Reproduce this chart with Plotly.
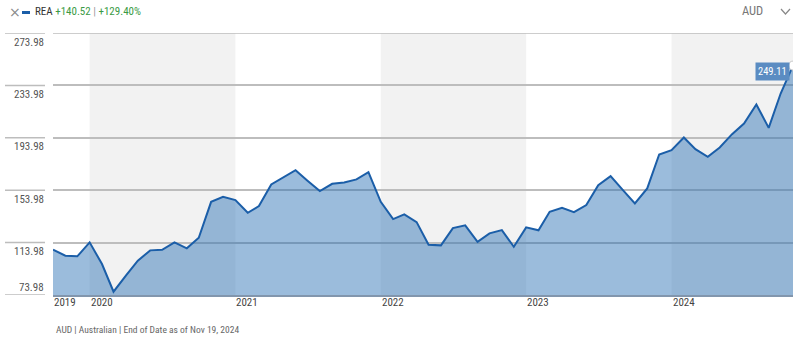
import pandas as pd
import plotly.graph_objects as go

# ---------------- data ----------------
start_month = "2019-10-01"
prices = [
    108.59, 103.95, 103.49, 114.16, 97.62, 76.50, 88.70, 100.13, 108.06, 108.52,
    114.16, 109.59, 117.67, 145.12, 148.93, 146.42, 136.73, 141.84, 158.39, 163.95,
    169.29, 161.28, 153.28, 158.84, 159.91, 162.20, 167.77, 145.12, 131.93, 135.51,
    129.64, 112.33, 111.88, 125.07, 127.13, 114.62, 121.03, 123.54, 110.81, 125.60,
    123.40, 137.49, 140.54, 137.27, 142.60, 157.85, 164.72, 154.04, 143.90, 155.34,
    181.26, 184.54, 194.22, 185.30, 179.43, 186.60, 196.74, 204.90, 219.39, 201.54,
    227.77, 249.11,
]
dates = pd.date_range(start_month, periods=len(prices), freq="MS")

y_ticks = [73.98, 113.98, 153.98, 193.98, 233.98, 273.98]
y_tick_labels = ["73.98", "113.98", "153.98", "193.98", "233.98", "273.98"]
year_starts = ["2019-10-01", "2020-01-01", "2021-01-01", "2022-01-01", "2023-01-01", "2024-01-01"]
year_labels = ["2019", "2020", "2021", "2022", "2023", "2024"]
shaded_years = [("2020-01-01", "2021-01-01"), ("2022-01-01", "2023-01-01"), ("2024-01-01", "2024-11-01")]

ticker = "REA"
change_abs = "+140.52"
change_pct = "+129.40%"
currency = "AUD"
footer = "AUD | Australian | End of Date as of Nov 19, 2024"

# ---------------- layout helpers ----------------
W, H = 800, 341
ML, MR, MT, MB = 53, 7, 33, 46
PW, PH = W - ML - MR, H - MT - MB


def px(xp):
    return (xp - ML) / PW


def py(yp):
    return (H - MB - yp) / PH


FONT = "Liberation Sans Narrow, Roboto Condensed, Roboto, Arial, sans-serif"
LINE_BLUE = "#1b5ea8"
GRID = "#bdbdbd"

fig = go.Figure()
fig.add_trace(go.Scatter(
    x=dates, y=prices, mode="lines",
    line=dict(color=LINE_BLUE, width=2),
    fill="tozeroy", fillcolor="rgba(33,106,177,0.45)",
    hoverinfo="skip", showlegend=False,
))
fig.add_trace(go.Scatter(
    x=[dates[-1]], y=[prices[-1]], mode="markers",
    marker=dict(size=9, color="white", line=dict(color="#c8c8c8", width=1)),
    hoverinfo="skip", showlegend=False,
))

shapes = []
for a, b in shaded_years:
    shapes.append(dict(type="rect", xref="x", yref="paper", x0=a, x1=b, y0=0, y1=1,
                       fillcolor="#f2f2f2", line=dict(width=0), layer="below"))
for v in y_ticks:
    shapes.append(dict(type="line", xref="paper", yref="y", x0=px(5), x1=px(45), y0=v, y1=v,
                       line=dict(color=GRID, width=1.5)))
# top gridline across plot
shapes.append(dict(type="line", xref="paper", yref="y", x0=0, x1=1, y0=y_ticks[-1], y1=y_ticks[-1],
                   line=dict(color=GRID, width=1.5)))
# legend dash
shapes.append(dict(type="line", xref="paper", yref="paper", x0=px(22), x1=px(30),
                   y0=py(12.5), y1=py(12.5), line=dict(color=LINE_BLUE, width=3)))
# chevron
shapes.append(dict(type="path", xref="paper", yref="paper",
                   path=f"M {px(781)} {py(9)} L {px(785.5)} {py(14)} L {px(790)} {py(9)}",
                   line=dict(color="#888888", width=1.2)))

annotations = []
for i, (v, t) in enumerate(zip(y_ticks, y_tick_labels)):
    shift = 8 if i == 0 else -9
    annotations.append(dict(xref="paper", yref="y", x=px(46), y=v, yshift=shift,
                            text=t, showarrow=False, xanchor="right", yanchor="middle",
                            font=dict(family=FONT, size=11, color="#555555")))
for d, t in zip(year_starts, year_labels):
    annotations.append(dict(xref="x", yref="paper", x=d, y=py(302), text=t, showarrow=False,
                            xanchor="left", yanchor="middle", xshift=-1,
                            font=dict(family=FONT, size=11, color="#444444")))
# header
annotations.append(dict(xref="paper", yref="paper", x=px(7), y=py(12), text="×", showarrow=False,
                        xanchor="left", yanchor="middle",
                        font=dict(family="DejaVu Sans, sans-serif", size=14, color="#8a8a8a")))
annotations.append(dict(xref="paper", yref="paper", x=px(33), y=py(12),
                        text=(f"{ticker} <span style='color:#3a9a45'>{change_abs}</span>"
                              f" <span style='color:#999999'>|</span> "
                              f"<span style='color:#3a9a45'>{change_pct}</span>"),
                        showarrow=False, xanchor="left", yanchor="middle",
                        font=dict(family=FONT, size=11, color="#333333")))
annotations.append(dict(xref="paper", yref="paper", x=px(765), y=py(11), text=currency,
                        showarrow=False, xanchor="right", yanchor="middle",
                        font=dict(family=FONT, size=12.5, color="#777777")))
# value label
annotations.append(dict(xref="x", yref="y", x=dates[-1], y=prices[-1], xshift=-3, yshift=-6,
                        text=f"{prices[-1]:.2f}", showarrow=False, xanchor="right", yanchor="middle",
                        bgcolor="#5b8cc2", borderpad=2,
                        font=dict(family=FONT, size=10.5, color="white")))
# footer
annotations.append(dict(xref="paper", yref="paper", x=px(54), y=py(329), text=footer,
                        showarrow=False, xanchor="left", yanchor="middle",
                        font=dict(family=FONT, size=9.5, color="#666666")))

fig.update_layout(
    width=W, height=H,
    margin=dict(l=ML, r=MR, t=MT, b=MB),
    paper_bgcolor="white", plot_bgcolor="white",
    shapes=shapes, annotations=annotations,
    xaxis=dict(range=[dates[0], dates[-1]], showgrid=False, showticklabels=False,
               showline=True, linecolor="#8296ad", linewidth=2, zeroline=False, ticks=""),
    yaxis=dict(range=[y_ticks[0], y_ticks[-1]], tickvals=y_ticks, showticklabels=False,
               showgrid=True, gridcolor=GRID, gridwidth=1.5, zeroline=False, ticks=""),
)

fig.write_html("out.html", config={"displayModeBar": False})
